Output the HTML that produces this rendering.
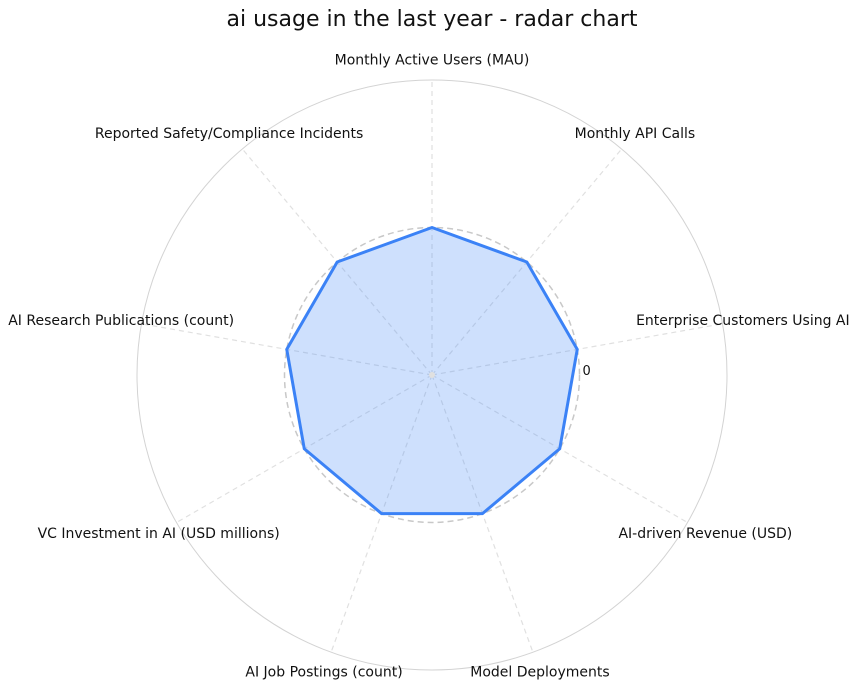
<!DOCTYPE html>
<html><head><meta charset="utf-8"><style>
body{margin:0;background:#fff;}
svg{display:block;font-family:"DejaVu Sans","Liberation Sans",sans-serif;}
</style></head><body>
<svg id="chart" width="857" height="688">
<text x="432" y="26" text-anchor="middle" font-size="22" fill="#111">ai usage in the last year - radar chart</text>
</svg>
<script>
const categories=["Monthly Active Users (MAU)","Monthly API Calls","Enterprise Customers Using AI","AI-driven Revenue (USD)","Model Deployments","AI Job Postings (count)","VC Investment in AI (USD millions)","AI Research Publications (count)","Reported Safety/Compliance Incidents"];
const values=[0,0,0,0,0,0,0,0,0];
const rTicks=[0];
const rMin=-1,rMax=1;
const NS="http://www.w3.org/2000/svg";
const svg=document.getElementById('chart');
const cx=432,cy=375,R=295;
function rs(v){return R*(v-rMin)/(rMax-rMin);}
function ang(i){return -Math.PI/2+i*2*Math.PI/categories.length;}
function pt(i,r){return [cx+r*Math.cos(ang(i)),cy+r*Math.sin(ang(i))];}
function mk(t,a){const e=document.createElementNS(NS,t);for(const k in a)e.setAttribute(k,a[k]);svg.appendChild(e);return e;}
let c=mk('circle',{cx:cx,cy:cy,r:R,fill:'none',stroke:'#d3d3d3','stroke-width':1});


categories.forEach((n,i)=>{
 const [x,y]=pt(i,R);
 const l=mk('line',{x1:cx,y1:cy,x2:x,y2:y,stroke:'#e0e0e0','stroke-dasharray':'5,4','stroke-width':1.2});
 
 
 const [lx,ly]=pt(i,R*1.07);
 const t=mk('text',{x:lx,y:ly+5,'text-anchor':'middle','font-size':14,fill:'#111'});
 t.textContent=n;
 
 
});
rTicks.forEach(v=>{
 const g=mk('circle',{cx:cx,cy:cy,r:rs(v),fill:'none',stroke:'#c8c8c8','stroke-dasharray':'6,4','stroke-width':1.5});
 
 
 const t=mk('text',{x:cx+rs(v)+3,y:cy,'font-size':13,fill:'#111'});
 t.textContent=String(v);
 
 
});
const pts=values.map((v,i)=>pt(i,rs(v)).join(',')).join(' ');
const p=mk('polygon',{points:pts,fill:'rgba(59,130,246,0.25)',stroke:'#3b82f6','stroke-width':3,'stroke-linejoin':'round'});


const d=mk('circle',{cx:cx,cy:cy,r:3,fill:'#e0e0e0'});


</script>
</body></html>
